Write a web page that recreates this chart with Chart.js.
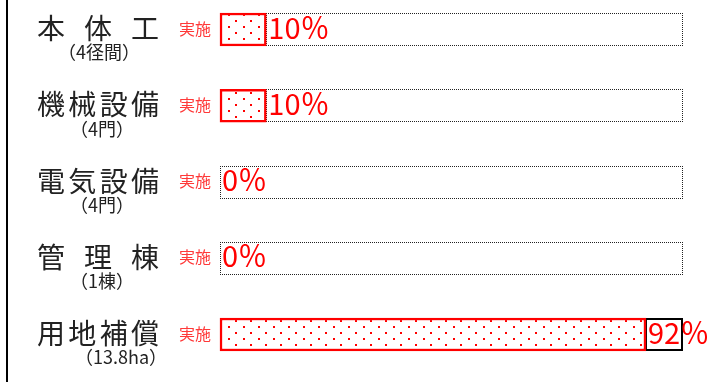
<!DOCTYPE html>
<html lang="ja">
<head>
<meta charset="utf-8">
<script src="https://cdn.jsdelivr.net/npm/chart.js@4.4.1/dist/chart.umd.min.js"></script>
<style>
  html, body { margin: 0; padding: 0; background: #fff; }
  #wrap { position: relative; width: 718px; height: 382px; }
</style>
</head>
<body>
<div id="wrap"><canvas id="progressChart" width="718" height="382"></canvas></div>
<script>
// Data
const categories = ['本体工', '機械設備', '電気設備', '管理棟', '用地補償'];
const subLabels = ['（4径間）', '（4門）', '（4門）', '（1棟）', '（13.8ha）'];
const doneValues = [10, 10, 0, 0, 92];
const seriesLabel = '実施';
const remainValues = doneValues.map(v => 100 - v);

const FONT = '"Noto Sans CJK JP", "Noto Sans", sans-serif';

// sub label centre x for each row (matches the slide)
const subLabelX = [99, 102, 102, 102, 121];

// small red dot pattern for the done bars
const makeDots = () => {
    const c = document.createElement('canvas');
    c.width = 15;
    c.height = 12;
    const g = c.getContext('2d');
    g.fillStyle = '#fff';
    g.fillRect(0, 0, 15, 12);
    g.fillStyle = '#f00';
    g.fillRect(3, 2, 2, 2);
    g.fillRect(10, 8, 2, 2);
    return g.createPattern(c, 'repeat');
};

// dotted 1px line made of small squares
const dotLine = (c, x0, y0, x1, y1) => {
    const len = Math.max(Math.abs(x1 - x0), Math.abs(y1 - y0));
    for (let t = 0; t <= len; t += 2) {
        const x = x0 + (x1 - x0) * (t / len || 0);
        const y = y0 + (y1 - y0) * (t / len || 0);
        c.fillRect(Math.round(x), Math.round(y), 1, 1);
    }
};

const ctx = document.getElementById('progressChart').getContext('2d');

// outline of the whole 100% box (dotted), solid where the row is nearly finished
const outlinePlugin = {
    id: 'outline',
    beforeDatasetsDraw(chart) {
        const c = chart.ctx;
        const meta = chart.getDatasetMeta(1);
        c.save();
        meta.data.forEach((bar, i) => {
            const p = bar.getProps(['x', 'y', 'base', 'height'], true);
            const top = Math.round(p.y - p.height / 2);
            const bottom = top + Math.round(p.height) - 1;
            const l = Math.round(p.base), r = Math.round(p.x) - 1;
            if (doneValues[i] >= 90) {
                c.strokeStyle = '#000';
                c.lineWidth = 2;
                c.strokeRect(p.base, top + 1, p.x - p.base - 1, p.height - 2);
            } else {
                c.fillStyle = '#222';
                dotLine(c, l, top, r, top);
                dotLine(c, l, bottom, r, bottom);
                dotLine(c, l, top, l, bottom);
                dotLine(c, r, top, r, bottom);
            }
        });
        c.restore();
    }
};

// left labels, "実施" tags and percent values
const textPlugin = {
    id: 'texts',
    afterDatasetsDraw(chart) {
        const c = chart.ctx;
        const yScale = chart.scales.y;
        const doneMeta = chart.getDatasetMeta(0);
        c.save();

        // left border line
        c.fillStyle = '#000';
        c.fillRect(6, 0, 2, chart.height);

        categories.forEach((name, i) => {
            const cy = yScale.getPixelForValue(i);

            // main label, spread between fixed edges
            c.font = '28px ' + FONT;
            c.fillStyle = '#222';
            c.textBaseline = 'middle';
            c.textAlign = 'left';
            const chars = Array.from(name);
            const left = 37, right = 159;
            const w = c.measureText(chars[0]).width;
            const step = chars.length > 1 ? (right - left - w) / (chars.length - 1) : 0;
            chars.forEach((ch, k) => c.fillText(ch, left + k * step, cy - 1));

            // sub label
            c.font = '18px ' + FONT;
            c.textAlign = 'center';
            c.fillText(subLabels[i], subLabelX[i], cy + 23);

            // series tag
            c.font = '16px ' + FONT;
            c.fillStyle = '#ff3838';
            c.textAlign = 'right';
            c.fillText(seriesLabel, 211, cy - 1);

            // percent value
            const bar = doneMeta.data[i].getProps(['x'], true);
            c.font = '29px ' + FONT;
            c.fillStyle = '#f00';
            c.textAlign = 'left';
            c.fillText(doneValues[i] + '％', bar.x + 2, cy - 2);
        });
        c.restore();
    }
};

new Chart(ctx, {
    type: 'bar',
    data: {
        labels: categories,
        datasets: [{
            label: seriesLabel,
            data: doneValues,
            backgroundColor: makeDots(),
            borderColor: '#f00',
            borderWidth: 2.5,
            borderSkipped: false,
            barThickness: 33,
            clip: false
        }, {
            label: '残り',
            data: remainValues,
            backgroundColor: 'rgba(0,0,0,0)',
            borderWidth: 0,
            barThickness: 33,
            clip: false
        }]
    },
    options: {
        indexAxis: 'y',
        responsive: false,
        animation: false,
        layout: {
            padding: { left: 220, right: 35, top: 29.5, bottom: 47.5 }
        },
        scales: {
            x: { stacked: true, min: 0, max: 100, display: false },
            y: { stacked: true, display: false, offset: false }
        },
        plugins: {
            legend: { display: false },
            tooltip: { enabled: false }
        }
    },
    plugins: [outlinePlugin, textPlugin]
});
</script>
</body>
</html>
